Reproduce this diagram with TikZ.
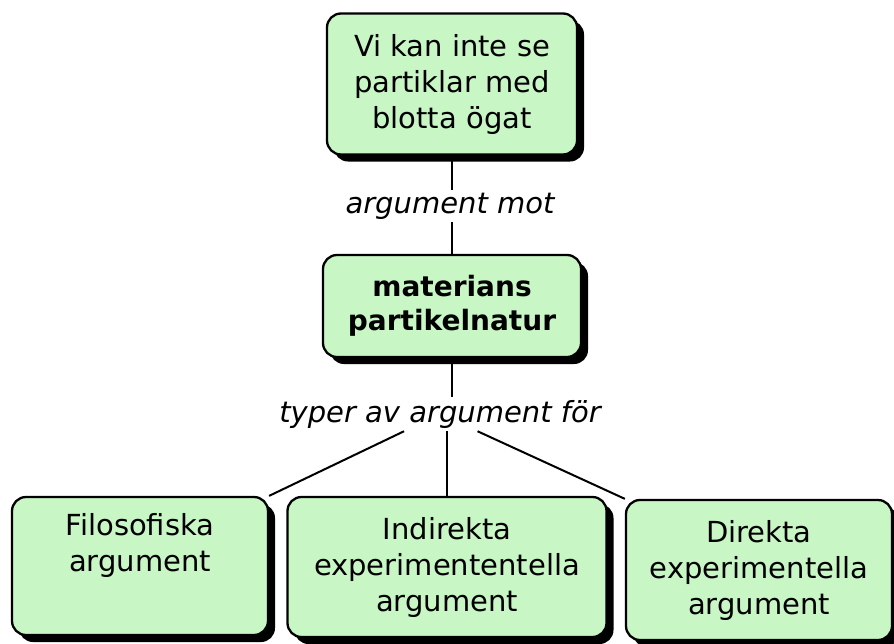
\documentclass[tikz,border=0pt]{standalone}
\usepackage{fontspec}
\setmainfont{DejaVu Sans}
\usepackage{tikz}
\usetikzlibrary{positioning,shadows}
\definecolor{conceptgreen}{RGB}{200,246,197}
\tikzset{
 concept/.style={rectangle,rounded corners=14pt,draw=black,line width=2.3pt,
   fill=conceptgreen,align=center,inner sep=2pt,
   font=\fontsize{29}{36}\selectfont,
   drop shadow={shadow xshift=7pt,shadow yshift=-7pt,fill=black,opacity=1}},
 key concept/.style={concept,font=\fontsize{28}{34}\selectfont\bfseries},
 linkphrase/.style={rectangle,inner sep=3pt,font=\fontsize{29}{36}\selectfont\itshape},
 connector/.style={line width=2pt}
 }

\begin{document}
\begin{tikzpicture}[x=1pt,y=-1pt]
      \useasboundingbox (0,0) rectangle (894,643);
      \node[concept,minimum width=250pt,minimum height=141pt] (vi) at (452,84) {Vi kan inte se\\partiklar med\\blotta ögat};
      \node[linkphrase] (mot) at (450,206) {argument mot};
      \node[key concept,minimum width=258pt,minimum height=102pt] (materia) at (452,306) {materians\\partikelnatur};
      \node[linkphrase] (typer) at (440,414) {typer av argument för};
      \node[concept,minimum width=256pt,minimum height=138pt] (filo) at (140,566) {Filosofiska\\argument\\\strut};
      \node[concept,minimum width=319pt,minimum height=140pt] (indir) at (447,567) {Indirekta\\experimententella\\argument};
      \node[concept,minimum width=266pt,minimum height=140pt] (dir) at (759,570) {Direkta\\experimentella\\argument};
      \draw[connector] (vi.south) -- (vi.south |- mot.north);
      \draw[connector] (vi.south |- mot.south) -- (materia.north);
      \draw[connector] (materia.south) -- (materia.south |- typer.north);
      \draw[connector] (typer) -- (filo.north east);
      \draw[connector] (typer.south -| indir.north) -- (indir.north);
      \draw[connector] (typer) -- (dir.north west);
    \end{tikzpicture}
\end{document}
